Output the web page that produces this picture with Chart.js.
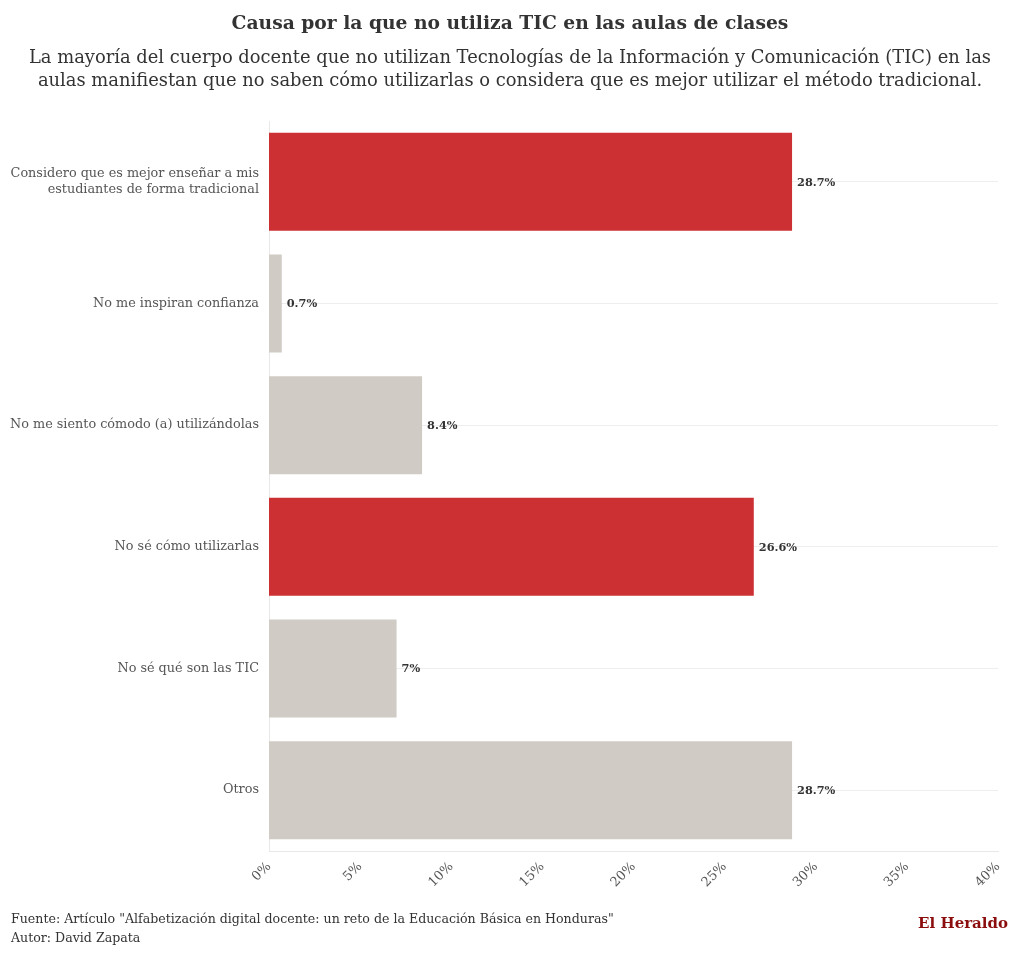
<!DOCTYPE html>
<html>
<head>
  <title>Causa por la que no utiliza TIC</title>
  <script src="https://cdn.jsdelivr.net/npm/chart.js"></script>
  <style>
    body { margin: 0; background: #fff; font-family: "DejaVu Serif", serif; color: #333; }
    #wrap { position: relative; width: 1020px; height: 956px; }
    #title { position: absolute; top: 11px; left: 0; width: 1020px; text-align: center;
      font-size: 18.7px; font-weight: bold; color: #333; }
    #subtitle { position: absolute; top: 45px; left: 0; width: 1020px; text-align: center;
      font-size: 17.9px; line-height: 23px; color: #333; }
    #chartBox { position: absolute; top: 0; left: 0; width: 1020px; height: 956px; }
    #source { position: absolute; left: 11px; top: 909px; font-size: 12.6px; line-height: 19px; color: #333; }
    #brand { position: absolute; right: 12px; top: 914px; font-size: 15px; font-weight: bold; color: #8b0d0d; }
  </style>
</head>
<body>
  <div id="wrap">
    <div id="chartBox"><canvas id="chart" width="1020" height="956"></canvas></div>
    <div id="title">Causa por la que no utiliza TIC en las aulas de clases</div>
    <div id="subtitle">La mayoría del cuerpo docente que no utilizan Tecnologías de la Información y Comunicación (TIC) en las<br>aulas manifiestan que no saben cómo utilizarlas o considera que es mejor utilizar el método tradicional.</div>
    <div id="source">Fuente: Artículo "Alfabetización digital docente: un reto de la Educación Básica en Honduras"<br>Autor: David Zapata</div>
    <div id="brand">El Heraldo</div>
  </div>

  <script>
    const categories = [
      ["Considero que es mejor enseñar a mis", "estudiantes de forma tradicional"],
      "No me inspiran confianza",
      "No me siento cómodo (a) utilizándolas",
      "No sé cómo utilizarlas",
      "No sé qué son las TIC",
      "Otros"
    ];
    const values = [28.7, 0.7, 8.4, 26.6, 7, 28.7];
    const valueLabels = ["28.7%", "0.7%", "8.4%", "26.6%", "7%", "28.7%"];
    const highlighted = [true, false, false, true, false, false];
    const xTicks = [0, 5, 10, 15, 20, 25, 30, 35, 40];

    const RED = "#cc3033";
    const GREY = "#d0ccc5";

    // value text just past the end of each bar
    const barLabels = {
      id: "barLabels",
      afterDatasetsDraw(chart) {
        const ctx = chart.ctx;
        const meta = chart.getDatasetMeta(0);
        ctx.save();
        ctx.font = "bold 11.3px 'DejaVu Serif'";
        ctx.fillStyle = "#333";
        ctx.textBaseline = "middle";
        ctx.textAlign = "left";
        meta.data.forEach((bar, i) => {
          ctx.fillText(valueLabels[i], bar.x + 5, bar.y + 1);
        });
        ctx.restore();
      }
    };

    new Chart(document.getElementById("chart"), {
      type: "bar",
      data: {
        labels: categories,
        datasets: [{
          data: values,
          backgroundColor: highlighted.map(h => h ? RED : GREY),
          categoryPercentage: 1,
          barPercentage: 0.805
        }]
      },
      options: {
        indexAxis: "y",
        responsive: false,
        animation: false,
        devicePixelRatio: 1,
        layout: { padding: { left: 10, right: 22, top: 121, bottom: 55 } },
        plugins: {
          legend: { display: false },
          tooltip: { enabled: false }
        },
        scales: {
          x: {
            min: 0,
            max: 40,
            afterBuildTicks(axis) { axis.ticks = xTicks.map(v => ({ value: v })); },
            afterFit(axis) { axis.height = 50; },
            grid: { display: false },
            border: { display: true, color: "#e8e8e8" },
            ticks: {
              maxRotation: 45,
              minRotation: 45,
              padding: 0,
              color: "#555",
              font: { family: "DejaVu Serif", size: 13 },
              callback: v => v + "%"
            }
          },
          y: {
            afterFit(axis) { axis.width = 259; },
            grid: { color: "#eeeeee", drawTicks: false, offset: false },
            border: { display: true, color: "#e8e8e8" },
            ticks: {
              padding: 10,
              color: "#555",
              font: { family: "DejaVu Serif", size: 12.8 }
            }
          }
        }
      },
      plugins: [barLabels]
    });
  </script>
</body>
</html>
